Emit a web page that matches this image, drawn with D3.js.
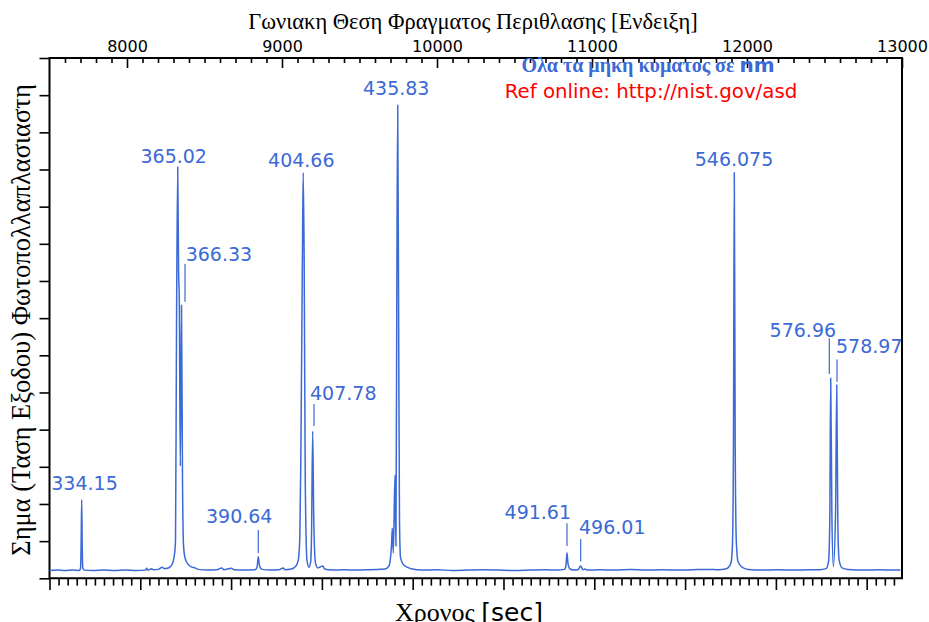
<!DOCTYPE html>
<html>
<head>
<meta charset="utf-8">
<script src="https://cdn.jsdelivr.net/npm/d3@7"></script>
<style>
  body { margin: 0; background: #fff; }
  svg { display: block; }
</style>
</head>
<body>
<svg id="chart"></svg>
<script>
// grating position [reading] vs photomultiplier signal
const trace = [
  [7500,0.21],[7550,0.22],[7600,0.21],[7650,0.22],[7690,0.21],[7700,0.26],[7704,0.9],[7707.7,2.12],[7711,0.9],[7715,0.27],
  [7725,0.22],[7780,0.21],[7850,0.22],[7920,0.21],[7990,0.22],[8060,0.21],[8120,0.22],[8127,0.27],[8135,0.22],[8159,0.26],
  [8170,0.23],[8200,0.24],[8228,0.3],[8240,0.26],[8260,0.27],[8277,0.3],[8297,0.44],[8308,0.7],[8313,1.03],[8319.4,6.68],
  [8327.1,11.07],[8332.9,8.27],[8337.4,7.49],[8343.9,3.02],[8351.6,7.35],[8358.1,2.64],[8364.5,0.9],[8374.2,0.55],[8393.5,0.38],[8419,0.3],
  [8438,0.28],[8460,0.24],[8520,0.22],[8580,0.23],[8611,0.28],[8625,0.23],[8675,0.27],[8690,0.23],[8760,0.22],[8826,0.23],
  [8839,0.3],[8847,0.58],[8855,0.34],[8871,0.24],[8920,0.22],[8980,0.23],[9008,0.28],[9020,0.23],[9060,0.25],[9090,0.33],
  [9105,0.49],[9115,1.1],[9122,3.45],[9132,8.83],[9137,10.92],[9143,8.56],[9150,2.64],[9161,0.49],[9174,0.3],[9185,0.45],
  [9190,1.03],[9198,3.96],[9205,1.57],[9216,0.41],[9232,0.28],[9263,0.33],[9275,0.25],[9320,0.22],[9400,0.23],[9480,0.22],
  [9560,0.23],[9620,0.24],[9664,0.25],[9690,0.33],[9706.5,0.9],[9711.6,1.35],[9718,0.68],[9729,2.78],[9735,0.87],[9740.6,7.49],
  [9746.5,12.73],[9752,7.49],[9758,1.57],[9764.5,0.57],[9780.6,0.38],[9806.5,0.3],[9838.7,0.25],[9900,0.22],[10000,0.23],[10100,0.21],
  [10200,0.22],[10300,0.23],[10400,0.22],[10500,0.21],[10600,0.22],[10700,0.23],[10780,0.22],[10822.6,0.24],[10832,0.35],[10838.7,0.69],
  [10845,0.4],[10858,0.25],[10890,0.22],[10909.7,0.23],[10927,0.33],[10942,0.23],[10955,0.25],[10970,0.22],[11050,0.23],[11150,0.22],
  [11250,0.24],[11350,0.22],[11450,0.23],[11550,0.22],[11650,0.23],[11750,0.24],[11820,0.23],[11860,0.25],[11877,0.28],[11897,0.42],
  [11906,0.9],[11912.5,3.5],[11918,10.91],[11924,3.5],[11931,1.0],[11942,0.45],[11968,0.3],[12006,0.24],[12100,0.22],[12200,0.23],
  [12300,0.22],[12400,0.23],[12470,0.23],[12509.7,0.26],[12526,0.45],[12534,1.5],[12540,5.38],[12547.4,1.8],[12557,0.31],[12571.4,1.8],
  [12579,5.2],[12586,1.5],[12594,0.5],[12613,0.28],[12652,0.24],[12750,0.22],[12850,0.23],[12950,0.22],[12990,0.22]
];

// wavelength labels (nm): text, anchor point [grating pos, signal], text-anchor
const lineNames  = ['334.15','365.02','366.33','390.64','404.66','407.78','435.83','491.61','496.01','546.075','576.96','578.97'];
const labelAt    = [[7725.8,2.38],[8301.3,11.18],[8378.7,8.55],[8723.9,1.5],[9124.5,11.07],[9180.6,4.81],[9736.8,13.0],[10650.3,1.6],[10916.1,1.18],[11916.1,11.09],[12360.3,6.5],[12574.2,6.05]];
const labelAlign = ['middle','middle','start','middle','middle','start','middle','middle','start','middle','middle','start'];
// leader marks: [grating pos, signal from, signal to]
const leaders = [[8374.2,8.46,7.44],[8847,1.3,0.68],[9206.5,4.69,4.1],[10838.7,1.48,0.87],[10927,1.06,0.45],[12531,6.46,5.5],[12580.6,5.89,5.29]];

const topTicks = d3.range(8000, 13001, 1000);
const timeTicks = d3.range(0, 901, 100);
const signalTicks = d3.range(0, 15, 1);

const width = 929, height = 622;
const blue = '#3b69d6';
const serif = '"Liberation Serif", "Times New Roman", serif';
const sans = '"DejaVu Sans", Verdana, sans-serif';

let svg = d3.select('#chart')
    .attr('width', width)
    .attr('height', height);

let x = d3.scaleLinear().domain([7500, 13000]).range([49.5, 902]);
let t = d3.scaleLinear().domain([0, 938.9]).range([49.5, 902]);
let y = d3.scaleLinear().domain([0, 14]).range([578.3, 58]);

function styleAxis(g) {
    g.select('.domain').remove();
    g.selectAll('.tick line').attr('stroke', '#000').attr('stroke-width', 1.6);
}

// top axis (grating reading)
svg.append('g')
    .attr('transform', `translate(0,${y(14)})`)
    .call(d3.axisTop(x).tickValues(d3.range(7600, 13000, 100).filter(d => d % 1000))
        .tickSizeInner(-5).tickSizeOuter(0).tickFormat(''))
    .call(styleAxis);

svg.append('g')
    .attr('transform', `translate(0,${y(14)})`)
    .call(d3.axisTop(x).tickValues(topTicks)
        .tickSizeInner(-10).tickSizeOuter(0).tickPadding(6).tickFormat(d3.format('d')))
    .call(styleAxis)
    .call(g => g.selectAll('text')
        .attr('fill', '#000')
        .style('font-family', sans)
        .style('font-size', '16px'));

// bottom axis (time)
svg.append('g')
    .attr('transform', `translate(0,${y(0)})`)
    .call(d3.axisBottom(t).tickValues(d3.range(10, 939, 10).filter(d => d % 100))
        .tickSize(7.3).tickFormat(''))
    .call(styleAxis);

svg.append('g')
    .attr('transform', `translate(0,${y(0)})`)
    .call(d3.axisBottom(t).tickValues(timeTicks).tickSize(11.7).tickFormat(''))
    .call(styleAxis);

// left axis (signal)
svg.append('g')
    .attr('transform', `translate(${x(7500)},0)`)
    .call(d3.axisLeft(y).tickValues(signalTicks).tickSize(10).tickFormat(''))
    .call(styleAxis);

// frame
svg.append('path')
    .attr('d', `M${x(7500)},${y(0)}V${y(14)}H${x(13000)}V${y(0)}H${x(7500)}`)
    .attr('fill', 'none')
    .attr('stroke', '#000')
    .attr('stroke-width', 2);

// spectrum
let line = d3.line()
    .x(d => x(d[0]))
    .y(d => y(d[1]))
    .curve(d3.curveMonotoneX);

svg.append('path')
    .datum(trace)
    .attr('d', line)
    .attr('fill', 'none')
    .attr('stroke', blue)
    .attr('stroke-width', 1.5);

// leaders + labels
svg.append('g')
    .selectAll('line')
    .data(leaders)
    .enter().append('line')
    .attr('x1', d => x(d[0]))
    .attr('x2', d => x(d[0]))
    .attr('y1', d => y(d[1]))
    .attr('y2', d => y(d[2]))
    .attr('stroke', blue)
    .attr('stroke-width', 1.2);

svg.append('g')
    .selectAll('text')
    .data(lineNames)
    .enter().append('text')
    .attr('x', (d, i) => x(labelAt[i][0]))
    .attr('y', (d, i) => y(labelAt[i][1]))
    .attr('text-anchor', (d, i) => labelAlign[i])
    .attr('fill', blue)
    .style('font-family', sans)
    .style('font-size', '19px')
    .text(d => d);

// notes
let note = svg.append('text')
    .attr('x', 648)
    .attr('y', 72)
    .attr('text-anchor', 'middle')
    .attr('fill', blue)
    .style('font-weight', 'bold')
    .style('font-size', '20px');
note.append('tspan').style('font-family', serif).text('Ολα τα μηκη κυματος σε ');
note.append('tspan').style('font-family', sans).text('nm');

svg.append('text')
    .attr('x', 651)
    .attr('y', 98)
    .attr('text-anchor', 'middle')
    .attr('fill', '#ff0000')
    .style('font-family', sans)
    .style('font-size', '19.8px')
    .text('Ref online: http://nist.gov/asd');

// axis titles
svg.append('text')
    .attr('x', 473)
    .attr('y', 29)
    .attr('text-anchor', 'middle')
    .style('font-family', serif)
    .style('font-size', '22.5px')
    .text('Γωνιακη Θεση Φραγματος Περιθλασης [Ενδειξη]');

svg.append('text')
    .attr('transform', 'translate(29.5,320) rotate(-90)')
    .attr('text-anchor', 'middle')
    .style('font-family', serif)
    .style('font-size', '26.5px')
    .text('Σημα (Ταση Εξοδου) Φωτοπολλαπλασιαστη');

let xt = svg.append('text')
    .attr('x', 395)
    .attr('y', 621)
    .style('font-size', '25px');
xt.append('tspan').style('font-family', serif).style('font-size', '26px').text('Χρονος ');
xt.append('tspan').style('font-family', sans).text('[sec]');
</script>
</body>
</html>
